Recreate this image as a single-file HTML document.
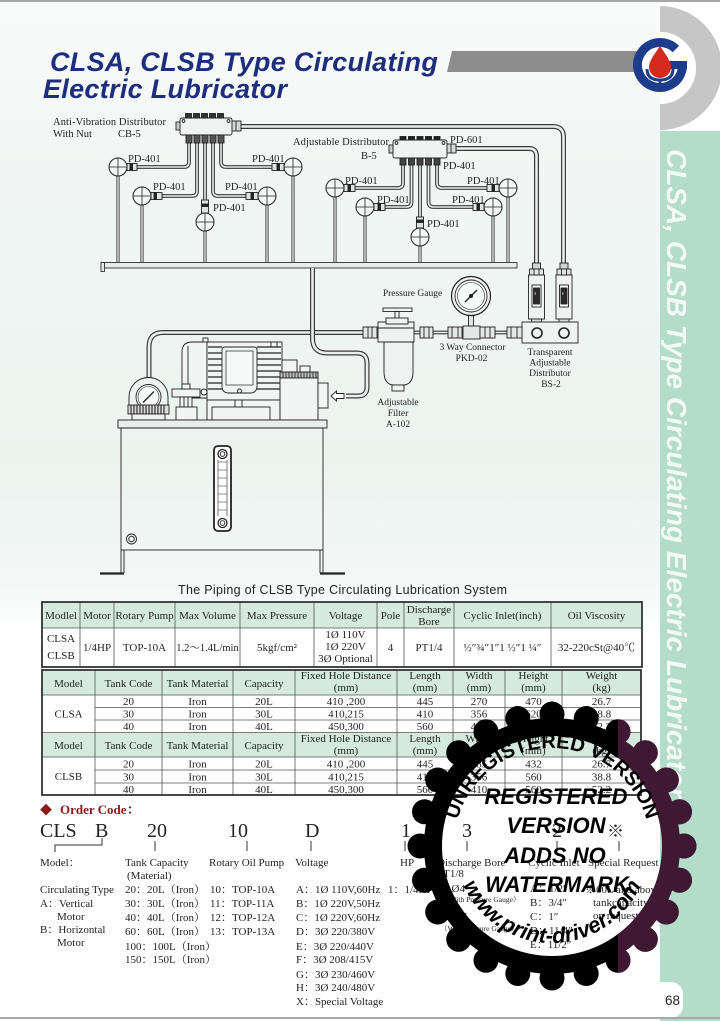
<!DOCTYPE html>
<html><head><meta charset="utf-8">
<style>
html,body{margin:0;padding:0;}
body{width:720px;height:1021px;overflow:hidden;background:#fff;}
svg{display:block;}
.s{font-family:"Liberation Serif","Noto Serif CJK SC","Noto Sans CJK SC",serif;}
.ss{font-family:"Liberation Sans","Noto Sans CJK SC",sans-serif;}
.po{fill:none;stroke:#3a3a3a;stroke-width:5;}
.pi{fill:none;stroke:#e9efed;stroke-width:2.6;}
.to{fill:none;stroke:#3a3a3a;stroke-width:3.8;}
.ti{fill:none;stroke:#e9efed;stroke-width:1.6;}
.do{fill:none;stroke:#444;stroke-width:3.2;}
.di{fill:none;stroke:#e6ecea;stroke-width:1.3;}
.ln{stroke:#222;stroke-width:0.9;}
</style></head><body>
<svg width="720" height="1021" viewBox="0 0 720 1021" xmlns="http://www.w3.org/2000/svg">
<defs>
<linearGradient id="bg" x1="0" y1="0" x2="0" y2="1">
 <stop offset="0" stop-color="#fafbfb"/>
 <stop offset="0.13" stop-color="#f2f7f5"/>
 <stop offset="0.45" stop-color="#ebf3ef"/>
 <stop offset="0.57" stop-color="#f3f8f6"/>
 <stop offset="0.62" stop-color="#ffffff"/>
</linearGradient>
<clipPath id="cr"><rect x="660" y="0" width="60" height="131"/></clipPath>
<clipPath id="cp"><rect x="618" y="680" width="110" height="341"/></clipPath>
<mask id="gm" maskUnits="userSpaceOnUse" x="380" y="680" width="340" height="341">
 <rect x="380" y="680" width="340" height="341" fill="#fff"/>
 <circle cx="552" cy="846" r="110" fill="#000"/>
</mask>
<g id="gearShape">
<circle cx="552" cy="846" r="128"/>
<circle cx="684" cy="846" r="12.5"/><circle cx="679.5" cy="880.2" r="12.5"/><circle cx="666.3" cy="912" r="12.5"/><circle cx="645.3" cy="939.3" r="12.5"/>
<circle cx="618" cy="960.3" r="12.5"/><circle cx="586.2" cy="973.5" r="12.5"/><circle cx="552" cy="978" r="12.5"/><circle cx="517.8" cy="973.5" r="12.5"/>
<circle cx="486" cy="960.3" r="12.5"/><circle cx="458.7" cy="939.3" r="12.5"/><circle cx="437.7" cy="912" r="12.5"/><circle cx="424.5" cy="880.2" r="12.5"/>
<circle cx="420" cy="846" r="12.5"/><circle cx="424.5" cy="811.8" r="12.5"/><circle cx="437.7" cy="780" r="12.5"/><circle cx="458.7" cy="752.7" r="12.5"/>
<circle cx="486" cy="731.7" r="12.5"/><circle cx="517.8" cy="718.5" r="12.5"/><circle cx="552" cy="714" r="12.5"/><circle cx="586.2" cy="718.5" r="12.5"/>
<circle cx="618" cy="731.7" r="12.5"/><circle cx="645.3" cy="752.7" r="12.5"/><circle cx="666.3" cy="780" r="12.5"/><circle cx="679.5" cy="811.8" r="12.5"/>
</g>
<path id="arcTop" d="M454,846 A98,98 0 0 1 650,846"/>
<path id="arcBot" d="M455,846 A97,97 0 0 0 649,846"/>
</defs>

<!-- background -->
<rect x="0" y="0" width="720" height="1021" fill="#fff"/>
<rect x="0" y="0" width="660" height="1021" fill="url(#bg)"/>

<!-- green strip -->
<rect x="660" y="131" width="60" height="890" fill="#b3ddc8"/>
<rect x="600" y="982" width="83" height="36" rx="12" fill="#fff"/>

<!-- borders -->
<rect x="0" y="0" width="720" height="2" fill="#a8a8a8"/>
<rect x="0" y="1017" width="720" height="2" fill="#a8a8a8"/>

<!-- logo ring -->
<g clip-path="url(#cr)">
 <circle cx="660" cy="68" r="49" fill="none" stroke="#c6c6c6" stroke-width="26"/>
</g>
<!-- gray bar -->
<path d="M452,51 H640 V72 H447 Z" fill="#8d8d8d"/>
<!-- blue logo -->
<circle cx="660" cy="65" r="19" fill="#fff"/>
<path d="M682.5,65 A22.5,22.5 0 1 1 675.9,49.1" fill="none" stroke="#1d3c8c" stroke-width="9"/>
<rect x="668" y="61" width="19" height="8" fill="#1d3c8c"/>
<path d="M660,46 C654,55 649,61 649,67 A11,11 0 0 0 671,67 C671,61 666,55 660,46 Z" fill="#d42a1f"/>
<path d="M647,69 Q647,80 660,80 Q673,80 673,69" fill="none" stroke="#1d3c8c" stroke-width="3"/>
<line x1="660" y1="80" x2="660" y2="87" stroke="#1d3c8c" stroke-width="3"/>

<!-- title -->
<g class="ss" font-weight="bold" font-style="italic" font-size="27" fill="#1c2e7d" letter-spacing="0.3">
<text x="50" y="71">CLSA, CLSB Type Circulating</text>
<text x="43" y="98">Electric Lubricator</text>
</g>

<!-- vertical strip text -->
<text class="ss" transform="translate(667,149) rotate(90)" font-weight="bold" font-style="italic" font-size="28" fill="#f3faf6">CLSA, CLSB Type Circulating Electric Lubricator</text>

<!-- ============ DIAGRAM ============ -->
<path class="po" d="M241,126.5 H553 Q563.5,126.5 563.5,137 V264"/>
<path class="pi" d="M241,126.5 H553 Q563.5,126.5 563.5,137 V264"/>
<path class="po" d="M456,148.5 H529 Q536.5,148.5 536.5,156 V264"/>
<path class="pi" d="M456,148.5 H529 Q536.5,148.5 536.5,156 V264"/>

<g>
<path class="to" d="M189,143 V162 Q189,167 184,167 H137"/><path class="ti" d="M189,143 V162 Q189,167 184,167 H137"/>
<path class="to" d="M197,143 V191 Q197,196 192,196 H162"/><path class="ti" d="M197,143 V191 Q197,196 192,196 H162"/>
<path class="to" d="M205,143 V200"/><path class="ti" d="M205,143 V200"/>
<path class="to" d="M213,143 V191 Q213,196 218,196 H246"/><path class="ti" d="M213,143 V191 Q213,196 218,196 H246"/>
<path class="to" d="M221,143 V162 Q221,167 226,167 H272"/><path class="ti" d="M221,143 V162 Q221,167 226,167 H272"/>
</g>
<g>
<path class="to" d="M403,165 V183 Q403,188 398,188 H355"/><path class="ti" d="M403,165 V183 Q403,188 398,188 H355"/>
<path class="to" d="M411.5,165 V202 Q411.5,207 406.5,207 H385"/><path class="ti" d="M411.5,165 V202 Q411.5,207 406.5,207 H385"/>
<path class="to" d="M420,165 V217"/><path class="ti" d="M420,165 V217"/>
<path class="to" d="M428.5,165 V202 Q428.5,207 433.5,207 H473"/><path class="ti" d="M428.5,165 V202 Q428.5,207 433.5,207 H473"/>
<path class="to" d="M437,165 V183 Q437,188 442,188 H487"/><path class="ti" d="M437,165 V183 Q437,188 442,188 H487"/>
</g>

<g>
<path class="do" d="M118,176 V263 M142,205 V263 M205,231 V263 M267,205 V263 M293,176 V263 M335,197 V263 M365,216 V263 M420,246 V263 M493,216 V263 M508,197 V263"/>
<path class="di" d="M118,176 V263 M142,205 V263 M205,231 V263 M267,205 V263 M293,176 V263 M335,197 V263 M365,216 V263 M420,246 V263 M493,216 V263 M508,197 V263"/>
</g>

<rect x="101" y="262.5" width="416" height="5.5" fill="#e6ecea" stroke="#333" stroke-width="0.9"/>
<rect x="101" y="262.5" width="3.5" height="9" fill="#e6ecea" stroke="#333" stroke-width="0.9"/>

<!-- CB-5 block -->
<g class="ln">
<rect x="180" y="118" width="52" height="17" rx="2" fill="#f0f3f2"/>
<g fill="#333"><rect x="185.5" y="113.5" width="6" height="4.5"/><rect x="193.5" y="113.5" width="6" height="4.5"/><rect x="201.5" y="113.5" width="6" height="4.5"/><rect x="209.5" y="113.5" width="6" height="4.5"/><rect x="217.5" y="113.5" width="6" height="4.5"/></g>
<rect x="176" y="122" width="4" height="8" fill="#ccc"/>
<rect x="232" y="121" width="9" height="10" fill="#d5d9d8"/>
<line x1="236" y1="121" x2="236" y2="131"/>
<circle cx="183.5" cy="121" r="1.4" fill="none"/><circle cx="228.5" cy="121" r="1.4" fill="none"/>
<g fill="#555"><rect x="186" y="135" width="6" height="8"/><rect x="194" y="135" width="6" height="8"/><rect x="202" y="135" width="6" height="8"/><rect x="210" y="135" width="6" height="8"/><rect x="218" y="135" width="6" height="8"/></g>
</g>
<!-- B-5 block -->
<g class="ln">
<rect x="393" y="140" width="54" height="18" rx="2" fill="#f0f3f2"/>
<g fill="#222"><rect x="400" y="136.5" width="6" height="3.5"/><rect x="408.5" y="136.5" width="6" height="3.5"/><rect x="417" y="136.5" width="6" height="3.5"/><rect x="425.5" y="136.5" width="6" height="3.5"/><rect x="434" y="136.5" width="6" height="3.5"/></g>
<rect x="389" y="145" width="4" height="8" fill="#ccc"/>
<rect x="447" y="144" width="9" height="9" fill="#d5d9d8"/>
<line x1="451" y1="144" x2="451" y2="153"/>
<circle cx="396.5" cy="143" r="1.4" fill="none"/><circle cx="443.5" cy="143" r="1.4" fill="none"/>
<g fill="#444"><rect x="400" y="158" width="6" height="7"/><rect x="408.5" y="158" width="6" height="7"/><rect x="417" y="158" width="6" height="7"/><rect x="425.5" y="158" width="6" height="7"/><rect x="434" y="158" width="6" height="7"/></g>
</g>

<g class="ln" fill="#dfe4e2">
<rect x="127" y="163.5" width="10" height="7"/><rect x="130" y="163.5" width="2.5" height="7" fill="#222"/>
<rect x="151" y="192.5" width="11" height="7"/><rect x="154" y="192.5" width="2.5" height="7" fill="#222"/>
<rect x="201.5" y="200" width="7" height="13"/><rect x="201.5" y="204" width="7" height="2.5" fill="#222"/>
<rect x="246" y="192.5" width="12" height="7"/><rect x="251" y="192.5" width="2.5" height="7" fill="#222"/>
<rect x="272" y="163.5" width="12" height="7"/><rect x="277" y="163.5" width="2.5" height="7" fill="#222"/>
<rect x="344" y="184.5" width="11" height="7"/><rect x="348" y="184.5" width="2.5" height="7" fill="#222"/>
<rect x="374" y="203.5" width="11" height="7"/><rect x="378" y="203.5" width="2.5" height="7" fill="#222"/>
<rect x="416.5" y="217" width="7" height="11"/><rect x="416.5" y="220" width="7" height="2.5" fill="#222"/>
<rect x="473" y="203.5" width="11" height="7"/><rect x="477" y="203.5" width="2.5" height="7" fill="#222"/>
<rect x="487" y="184.5" width="12" height="7"/><rect x="492" y="184.5" width="2.5" height="7" fill="#222"/>
</g>

<g fill="#f3f6f5" stroke="#222" stroke-width="1">
<circle cx="118" cy="167" r="9"/><circle cx="142" cy="196" r="9"/><circle cx="205" cy="222" r="9"/><circle cx="267" cy="196" r="9"/><circle cx="293" cy="167" r="9"/>
<circle cx="335" cy="188" r="9"/><circle cx="365" cy="207" r="9"/><circle cx="420" cy="237" r="9"/><circle cx="493" cy="207" r="9"/><circle cx="508" cy="188" r="9"/>
</g>
<g stroke="#222" stroke-width="0.8">
<path d="M109,167 H127 M118,158 V176 M133,196 H151 M142,187 V205 M196,222 H214 M205,213 V231 M258,196 H276 M267,187 V205 M284,167 H302 M293,158 V176"/>
<path d="M326,188 H344 M335,179 V197 M356,207 H374 M365,198 V216 M411,237 H429 M420,228 V246 M484,207 H502 M493,198 V216 M499,188 H517 M508,179 V197"/>
</g>

<g class="s" font-size="10.5" fill="#222">
<text x="53" y="125" textLength="113">Anti-Vibration Distributor</text>
<text x="53" y="137">With Nut</text>
<text x="118" y="137">CB-5</text>
<text x="128" y="162">PD-401</text>
<text x="153" y="190">PD-401</text>
<text x="213" y="211">PD-401</text>
<text x="225" y="190">PD-401</text>
<text x="252" y="162">PD-401</text>
<text x="293" y="145" textLength="96">Adjustable Distributor</text>
<text x="361" y="159">B-5</text>
<text x="450" y="143">PD-601</text>
<text x="443" y="169">PD-401</text>
<text x="345" y="184">PD-401</text>
<text x="377" y="203">PD-401</text>
<text x="427" y="227">PD-401</text>
<text x="452" y="203">PD-401</text>
<text x="467" y="184">PD-401</text>
</g>

<!-- transparent distributors -->
<g class="ln">
<rect x="532.5" y="263" width="8" height="6" fill="#cfd4d2"/>
<rect x="529.5" y="269" width="14" height="6" fill="#e2e6e5"/>
<line x1="534" y1="269" x2="534" y2="275"/><line x1="539" y1="269" x2="539" y2="275"/>
<rect x="528.5" y="275" width="16" height="44" fill="#eef2f1"/>
<rect x="532" y="285" width="9" height="22" fill="#fff"/>
<rect x="533.5" y="288" width="6" height="16" fill="#2a2a2a"/>
<rect x="531.5" y="319" width="10" height="3" fill="#ddd"/>
<rect x="560" y="263" width="8" height="6" fill="#cfd4d2"/>
<rect x="557" y="269" width="14" height="6" fill="#e2e6e5"/>
<line x1="561.5" y1="269" x2="561.5" y2="275"/><line x1="566.5" y1="269" x2="566.5" y2="275"/>
<rect x="556" y="275" width="16" height="44" fill="#eef2f1"/>
<rect x="559.5" y="285" width="9" height="22" fill="#fff"/>
<rect x="561" y="288" width="6" height="16" fill="#2a2a2a"/>
<rect x="559" y="319" width="10" height="3" fill="#ddd"/>
<rect x="522" y="322" width="56" height="21" fill="#eef2f1"/>
<circle cx="537" cy="333" r="5" fill="#eef2f1" stroke-width="1.6"/>
<circle cx="564" cy="333" r="5" fill="#eef2f1" stroke-width="1.6"/>
</g>
<g fill="#888"><rect x="534.5" y="292" width="1.5" height="3"/><rect x="562" y="292" width="1.5" height="3"/></g>

<path class="po" d="M149,379 V347 Q149,332.5 163,332.5 H364"/>
<path class="pi" d="M149,379 V347 Q149,332.5 163,332.5 H364"/>
<path class="to" d="M413,332.5 H522"/><path class="ti" d="M413,332.5 H522"/>

<path class="po" d="M312.5,268 V338 Q312.5,353 327,353 H357 Q367,353 367,363 V387 Q367,396 358,396 H346"/>
<path class="pi" d="M312.5,268 V338 Q312.5,353 327,353 H357 Q367,353 367,363 V387 Q367,396 358,396 H346"/>
<path d="M331,396 L336.5,391 V393.5 H344 V398.5 H336.5 V401 Z" fill="#fff" stroke="#222" stroke-width="0.9"/>

<g class="ln" fill="#e3e7e6">
<rect x="363" y="327" width="14" height="11"/><line x1="368" y1="327" x2="368" y2="338"/><line x1="372" y1="327" x2="372" y2="338"/>
<rect x="420" y="327" width="13" height="11"/><line x1="424" y1="327" x2="424" y2="338"/><line x1="429" y1="327" x2="429" y2="338"/>
<rect x="448" y="327" width="14" height="11"/><line x1="452" y1="327" x2="452" y2="338"/><line x1="458" y1="327" x2="458" y2="338"/>
<rect x="463" y="326" width="17" height="13"/>
<rect x="480" y="327" width="15" height="11"/><line x1="485" y1="327" x2="485" y2="338"/><line x1="490" y1="327" x2="490" y2="338"/>
<rect x="507" y="327" width="15" height="11"/><line x1="511" y1="327" x2="511" y2="338"/><line x1="517" y1="327" x2="517" y2="338"/>
</g>

<g class="ln" fill="#eef2f1">
<rect x="383" y="308" width="29" height="3.5"/>
<rect x="395" y="311.5" width="4" height="11"/>
<rect x="378" y="322" width="36" height="20"/>
<rect x="386" y="318" width="22" height="6"/>
<line x1="378" y1="328" x2="414" y2="328"/>
<path d="M384,342 V372 Q384,384 393,385 H404 Q413,384 413,372 V342 Z"/>
<rect x="392" y="385" width="12" height="6"/>
</g>

<g class="ln">
<rect x="468.5" y="314" width="5" height="12" fill="#e3e7e6"/>
<circle cx="471" cy="296" r="19.5" fill="#eef2f1" stroke-width="1.2"/>
<circle cx="471" cy="296" r="16" fill="#f8faf9"/>
<circle cx="471" cy="296" r="13.5" fill="none" stroke-width="0.6"/>
<line x1="465" y1="302" x2="477" y2="290" stroke-width="1.4"/>
<circle cx="471" cy="296" r="1.6" fill="#222"/>
</g>

<g class="s" font-size="9.5" fill="#222" text-anchor="middle">
<text x="412.5" y="296">Pressure Gauge</text>
<text x="472.5" y="350">3 Way Connector</text>
<text x="471.5" y="361">PKD-02</text>
<text x="550" y="355">Transparent</text>
<text x="550" y="365.5">Adjustable</text>
<text x="550" y="376">Distributor</text>
<text x="551" y="387">BS-2</text>
<text x="398" y="405">Adjustable</text>
<text x="398" y="416">Filter</text>
<text x="398" y="427">A-102</text>
</g>

<g class="ln">
<path d="M129,407 V397 A19.5,19.5 0 0 1 168,397 V407 Z" fill="#eef2f1"/>
<circle cx="148.5" cy="397" r="12.5" fill="#f8faf9"/>
<circle cx="148.5" cy="397" r="10.5" fill="none" stroke-width="0.6"/>
<line x1="143" y1="402.5" x2="154" y2="391.5" stroke-width="1.3"/>
<rect x="128" y="405" width="41" height="9" fill="#ddd"/>
<path d="M131,405 V414 M134,405 V414 M137,405 V414 M140,405 V414 M143,405 V414 M146,405 V414 M149,405 V414 M152,405 V414 M155,405 V414 M158,405 V414 M161,405 V414 M164,405 V414" stroke-width="1.1"/>
<rect x="132" y="414" width="33" height="6" fill="#eef2f1"/>
</g>

<g class="ln" fill="#f1f4f3">
<path d="M182,398 V352 Q182,342 192,342 H207 V398 Z"/>
<line x1="188" y1="346" x2="188" y2="396"/>
<rect x="207" y="342" width="75" height="58"/>
<rect x="203" y="338" width="5" height="4"/>
<rect x="271" y="342" width="6" height="5"/>
<path d="M208,347 H222 M208,353 H222 M208,359 H222 M208,365 H222 M208,371 H222 M208,377 H222 M208,383 H222 M208,389 H222 M257,347 H281 M257,353 H281 M257,359 H281 M257,365 H281 M257,371 H281 M257,377 H281 M257,383 H281 M257,389 H281" stroke-width="1.2"/>
<path d="M222,350 Q222,347 225,347 H254 Q257,347 257,350 V386 Q257,393 250,393 H229 Q222,393 222,386 Z"/>
<rect x="226" y="351" width="27" height="34" fill="#f7f9f8" stroke-width="0.7"/>
<circle cx="239.5" cy="391" r="2"/>
<circle cx="204" cy="392" r="3"/>
<rect x="207" y="400" width="73" height="20"/>
<rect x="235" y="400" width="7" height="7"/>
<rect x="212" y="407" width="58" height="13"/>
<rect x="282" y="360" width="15" height="12"/>
<rect x="300" y="366" width="10" height="6"/>
<rect x="280" y="372" width="38" height="6" fill="#bbb"/>
<path d="M283,372 V378 M286,372 V378 M289,372 V378 M292,372 V378 M295,372 V378 M298,372 V378 M301,372 V378 M304,372 V378 M307,372 V378 M310,372 V378 M313,372 V378 M316,372 V378" stroke-width="0.8"/>
<rect x="280" y="378" width="38" height="42"/>
<rect x="318" y="383" width="10" height="25"/>
<rect x="172" y="389" width="28" height="8"/>
<rect x="182" y="384" width="8" height="5"/>
<rect x="180" y="397" width="12" height="10"/>
<line x1="184" y1="397" x2="184" y2="407"/><line x1="188" y1="397" x2="188" y2="407"/>
<rect x="176" y="407" width="21" height="13"/>
</g>

<g class="ln" fill="none">
<rect x="118" y="420" width="209" height="8" fill="#e8eeeb"/>
<rect x="121" y="428" width="202" height="122"/>
<path d="M121,550 V573 M124,550 V573 M320,550 V573 M323,550 V573" />
<path d="M100,573.5 H124 M320,573.5 H345" stroke-width="2.2"/>
<rect x="214" y="446" width="17" height="85" rx="4" fill="#fff" stroke-width="1.8"/>
<path d="M218,462 H227 M218,470 H227 M218,478 H227 M218,486 H227 M218,494 H227 M218,502 H227 M218,510 H227" stroke-width="0.6"/>
<line x1="218" y1="460" x2="218" y2="516" stroke-width="0.6"/>
<line x1="227" y1="460" x2="227" y2="516" stroke-width="0.6"/>
<circle cx="222.5" cy="454" r="4.5" stroke-width="1.3"/><circle cx="222.5" cy="454" r="2.3"/>
<circle cx="222.5" cy="523" r="4.5" stroke-width="1.3"/><circle cx="222.5" cy="523" r="2.3"/>
<circle cx="131.5" cy="539" r="5"/><circle cx="131.5" cy="539" r="2.8"/>
</g>

<text class="ss" x="178" y="594" font-size="12.5" fill="#222" textLength="329">The Piping of CLSB Type Circulating Lubrication System</text>

<!-- ============ TABLE 1 ============ -->
<rect x="42" y="602" width="600" height="26" fill="#d4eadf"/>
<rect x="42" y="628" width="600" height="39" fill="#fff"/>
<g stroke="#555" stroke-width="0.8">
<line x1="42" y1="628" x2="642" y2="628"/>
<path d="M80,602 V667 M114,602 V667 M175,602 V667 M240,602 V667 M314,602 V667 M377,602 V667 M404,602 V667 M454,602 V667 M551,602 V667"/>
</g>
<rect x="42" y="602" width="600" height="65" fill="none" stroke="#333" stroke-width="1.8"/>
<g class="s" font-size="11" fill="#222" text-anchor="middle">
<text x="61" y="619">Modlel</text>
<text x="97" y="619">Motor</text>
<text x="144.5" y="619">Rotary Pump</text>
<text x="207.5" y="619">Max Volume</text>
<text x="277" y="619">Max Pressure</text>
<text x="345.5" y="619">Voltage</text>
<text x="390.5" y="619">Pole</text>
<text x="429" y="613">Discharge</text>
<text x="429" y="625">Bore</text>
<text x="502.5" y="619">Cyclic Inlet(inch)</text>
<text x="596.5" y="619">Oil Viscosity</text>
<text x="61" y="642">CLSA</text>
<text x="61" y="659">CLSB</text>
<text x="97" y="651">1/4HP</text>
<text x="144.5" y="651">TOP-10A</text>
<text x="207.5" y="651" font-size="10.5">1.2～1.4L/min</text>
<text x="277" y="651">5kgf/cm²</text>
<text x="345.5" y="638">1Ø 110V</text>
<text x="345.5" y="650">1Ø 220V</text>
<text x="345.5" y="662">3Ø Optional</text>
<text x="390.5" y="651">4</text>
<text x="429" y="651">PT1/4</text>
<text x="502.5" y="651">½″¾″1″1 ½″1 ¼″</text>
<text x="596.5" y="651">32-220cSt@40℃</text>
</g>

<!-- ============ TABLE 2 ============ -->
<rect x="42" y="670" width="599" height="125" fill="#fff"/>
<rect x="42" y="670" width="599" height="25" fill="#d4eadf"/>
<rect x="42" y="732.5" width="599" height="24.5" fill="#d4eadf"/>
<g stroke="#555" stroke-width="0.8">
<path d="M42,695 H641 M42,732.5 H641 M42,757 H641 M95,707.5 H641 M95,720 H641 M95,770 H641 M95,783 H641"/>
<path d="M95,670 V795 M162,670 V795 M233,670 V795 M295,670 V795 M397,670 V795 M453,670 V795 M505,670 V795 M562,670 V795"/>
</g>
<rect x="42" y="670" width="599" height="125" fill="none" stroke="#333" stroke-width="1.8"/>
<g class="s" font-size="11" fill="#222" text-anchor="middle">
<text x="68.5" y="687">Model</text><text x="128.5" y="687">Tank Code</text><text x="197.5" y="687">Tank Material</text><text x="264" y="687">Capacity</text>
<text x="346" y="679">Fixed Hole Distance</text><text x="346" y="691">(mm)</text>
<text x="425" y="679">Length</text><text x="425" y="691">(mm)</text>
<text x="479" y="679">Width</text><text x="479" y="691">(mm)</text>
<text x="533.5" y="679">Height</text><text x="533.5" y="691">(mm)</text>
<text x="601.5" y="679">Weight</text><text x="601.5" y="691">(kg)</text>
<text x="68.5" y="717.5">CLSA</text>
<text x="128.5" y="705">20</text><text x="197.5" y="705">Iron</text><text x="264" y="705">20L</text><text x="346" y="705">410 ,200</text><text x="425" y="705">445</text><text x="479" y="705">270</text><text x="533.5" y="705">470</text><text x="601.5" y="705">26.7</text>
<text x="128.5" y="717.5">30</text><text x="197.5" y="717.5">Iron</text><text x="264" y="717.5">30L</text><text x="346" y="717.5">410,215</text><text x="425" y="717.5">410</text><text x="479" y="717.5">356</text><text x="533.5" y="717.5">620</text><text x="601.5" y="717.5">38.8</text>
<text x="128.5" y="730">40</text><text x="197.5" y="730">Iron</text><text x="264" y="730">40L</text><text x="346" y="730">450,300</text><text x="425" y="730">560</text><text x="479" y="730">410</text><text x="533.5" y="730">610</text><text x="601.5" y="730">52.2</text>
<text x="68.5" y="749">Model</text><text x="128.5" y="749">Tank Code</text><text x="197.5" y="749">Tank Material</text><text x="264" y="749">Capacity</text>
<text x="346" y="742">Fixed Hole Distance</text><text x="346" y="754">(mm)</text>
<text x="425" y="742">Length</text><text x="425" y="754">(mm)</text>
<text x="479" y="742">Width</text><text x="479" y="754">(mm)</text>
<text x="533.5" y="742">Height</text><text x="533.5" y="754">(mm)</text>
<text x="601.5" y="742">Weight</text><text x="601.5" y="754">(kg)</text>
<text x="68.5" y="780">CLSB</text>
<text x="128.5" y="767.5">20</text><text x="197.5" y="767.5">Iron</text><text x="264" y="767.5">20L</text><text x="346" y="767.5">410 ,200</text><text x="425" y="767.5">445</text><text x="479" y="767.5">285</text><text x="533.5" y="767.5">432</text><text x="601.5" y="767.5">26.7</text>
<text x="128.5" y="780.5">30</text><text x="197.5" y="780.5">Iron</text><text x="264" y="780.5">30L</text><text x="346" y="780.5">410,215</text><text x="425" y="780.5">410</text><text x="479" y="780.5">356</text><text x="533.5" y="780.5">560</text><text x="601.5" y="780.5">38.8</text>
<text x="128.5" y="793">40</text><text x="197.5" y="793">Iron</text><text x="264" y="793">40L</text><text x="346" y="793">450,300</text><text x="425" y="793">560</text><text x="479" y="793">410</text><text x="533.5" y="793">560</text><text x="601.5" y="793">52.2</text>
</g>

<!-- ============ ORDER CODE ============ -->
<text class="s" x="40" y="814" font-size="12" fill="#8b1a1a">◆</text>
<text class="s" x="60" y="814" font-size="13" font-weight="bold" fill="#8b1a1a">Order Code：</text>
<g class="s" font-size="20" fill="#222">
<text x="40" y="837">CLS</text>
<text x="95" y="837">B</text>
<text x="147" y="837">20</text>
<text x="228" y="837">10</text>
<text x="305" y="837">D</text>
<text x="401" y="837">1</text>
<text x="462" y="837">3</text>
<text x="552" y="837">2</text>
<text x="607" y="837" font-size="17">※</text>
</g>
<g stroke="#333" stroke-width="1" fill="none">
<path d="M55,852 V845 H102 V838"/>
<path d="M155,841 V851 M247,841 V851 M311,841 V851 M405,841 V851 M467,841 V851 M557,841 V851 M619,841 V851"/>
</g>
<g class="s" font-size="11" fill="#222">
<text x="40" y="866">Model：</text>
<text x="125" y="866">Tank Capacity</text>
<text x="127" y="879">(Material)</text>
<text x="209" y="866">Rotary Oil Pump</text>
<text x="295" y="866">Voltage</text>
<text x="400" y="866">HP</text>
<text x="437" y="866">Discharge Bore</text>
<text x="437" y="877">PT1/8</text>
<text x="528" y="866">Cyclic Inlet</text>
<text x="588" y="866">Special Request</text>

<text x="40" y="893">Circulating Type</text>
<text x="40" y="907">A：Vertical</text>
<text x="57" y="920">Motor</text>
<text x="40" y="933">B：Horizontal</text>
<text x="57" y="946">Motor</text>

<text x="125" y="893">20：20L（Iron）</text>
<text x="125" y="907">30：30L（Iron）</text>
<text x="125" y="921">40：40L（Iron）</text>
<text x="125" y="935">60：60L（Iron）</text>
<text x="125" y="950">100：100L（Iron）</text>
<text x="125" y="963">150：150L（Iron）</text>

<text x="210" y="893">10：TOP-10A</text>
<text x="210" y="907">11：TOP-11A</text>
<text x="210" y="921">12：TOP-12A</text>
<text x="210" y="935">13：TOP-13A</text>

<text x="296" y="893">A：1Ø 110V,60Hz</text>
<text x="296" y="907">B：1Ø 220V,50Hz</text>
<text x="296" y="921">C：1Ø 220V,60Hz</text>
<text x="296" y="935">D：3Ø 220/380V</text>
<text x="296" y="950">E：3Ø 220/440V</text>
<text x="296" y="963">F：3Ø 208/415V</text>
<text x="296" y="978">G：3Ø 230/460V</text>
<text x="296" y="991">H：3Ø 240/480V</text>
<text x="296" y="1005">X：Special Voltage</text>

<text x="388" y="893">1：1/4HP</text>
<text x="435" y="892">2：Ø4</text>
<text x="437" y="920">3：Ø6</text>
<text x="530" y="892">A：1/2″</text>
<text x="530" y="906">B：3/4″</text>
<text x="530" y="920">C：1″</text>
<text x="530" y="934">D：11/4″</text>
<text x="530" y="948">E：11/2″</text>
<text x="585" y="893">※60L and above</text>
<text x="593" y="906">tankcapacity is</text>
<text x="593" y="919">on request</text>
</g>
<g class="s" font-size="7.5" fill="#222">
<text x="442" y="902">（With Pressure Gauge）</text>
<text x="440" y="931">（With Pressure Gauge）</text>
</g>

<text class="ss" x="665" y="1005" font-size="13.5" fill="#222">68</text>

<!-- ============ WATERMARK ============ -->
<g mask="url(#gm)">
 <use href="#gearShape" fill="#000"/>
 <g clip-path="url(#cp)"><use href="#gearShape" fill="#3f1934"/></g>
</g>
<g class="ss" font-weight="bold" fill="#000">
<text font-size="20"><textPath href="#arcTop" startOffset="50%" text-anchor="middle">UNREGISTERED VERSION</textPath></text>
<text font-size="22" font-style="italic"><textPath href="#arcBot" startOffset="50%" text-anchor="middle">www.print-driver.com</textPath></text>
<g font-style="italic" font-size="22" text-anchor="middle">
<text x="556" y="804">REGISTERED</text>
<text x="556" y="833">VERSION</text>
<text x="555" y="863">ADDS NO</text>
<text x="557" y="892">WATERMARK</text>
</g>
</g>
</svg>
</body></html>
